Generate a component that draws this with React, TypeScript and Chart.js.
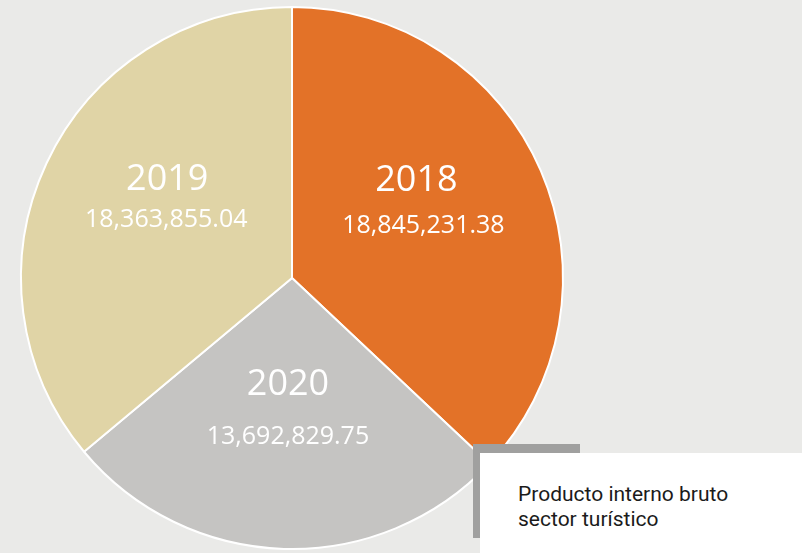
import React, { useEffect, useRef } from "react";
import { Chart, registerables } from "chart.js";

Chart.register(...registerables);

const categories = ["2018", "2020", "2019"];
const values = [18845231.38, 13692829.75, 18363855.04];
const valueLabels = ["18,845,231.38", "13,692,829.75", "18,363,855.04"];
const colors = ["#E37228", "#C5C4C2", "#E0D4A6"];
const legendLines = ["Producto interno bruto", "sector turístico"];

// [yearDx, yearDy, valueDx, valueDy] relative to each slice's centre point
const labelOffsets = [
  [0, -44, 7, 2],
  [0, -29, 0, 23],
  [-2, -41, -3, -1],
];

const sliceLabels = {
  id: "sliceLabels",
  afterDatasetsDraw(chart: any) {
    const ctx = chart.ctx;
    const meta = chart.getDatasetMeta(0);
    ctx.save();
    ctx.fillStyle = "#ffffff";
    ctx.textAlign = "center";
    ctx.textBaseline = "middle";
    meta.data.forEach((arc: any, i: number) => {
      const p = arc.tooltipPosition();
      const o = labelOffsets[i];
      ctx.font = "36px 'Open Sans'";
      ctx.fillText(categories[i], p.x + o[0], p.y + o[1]);
      ctx.font = "25px 'Open Sans'";
      ctx.fillText(valueLabels[i], p.x + o[2], p.y + o[3]);
    });
    ctx.restore();
  },
};

export default function App() {
  const ref = useRef<HTMLCanvasElement>(null);
  useEffect(() => {
    document.body.style.margin = "0";
    const chart = new Chart(ref.current!, {
      type: "pie",
      data: {
        labels: categories,
        datasets: [
          {
            data: values,
            backgroundColor: colors,
            borderColor: "#ffffff",
            borderWidth: 2,
          },
        ],
      },
      options: {
        animation: false,
        responsive: false,
        layout: { padding: { left: 20, right: 238, top: 6, bottom: 3 } },
        plugins: {
          legend: { display: false },
          tooltip: { enabled: false },
        },
      },
      plugins: [sliceLabels],
    });
    return () => chart.destroy();
  }, []);

  return (
    <div
      style={{
        position: "fixed",
        left: 0,
        top: 0,
        width: 802,
        height: 553,
        background: "#EAEAE8",
        overflow: "hidden",
      }}
    >
      <canvas ref={ref} width={802} height={553} style={{ position: "absolute", left: 0, top: 0 }} />
      <div
        style={{
          position: "absolute",
          left: 473,
          top: 444,
          width: 107,
          height: 94,
          background: "#A0A09F",
        }}
      />
      <div
        style={{
          position: "absolute",
          left: 480,
          top: 453,
          width: 322,
          height: 100,
          background: "#FFFFFF",
        }}
      >
        <div
          style={{
            position: "absolute",
            left: 38,
            top: 29,
            fontFamily: "Roboto",
            fontSize: 21,
            lineHeight: "25px",
            color: "#1B1B1B",
            whiteSpace: "nowrap",
          }}
        >
          {legendLines.map((l) => (
            <div key={l}>{l}</div>
          ))}
        </div>
      </div>
    </div>
  );
}
